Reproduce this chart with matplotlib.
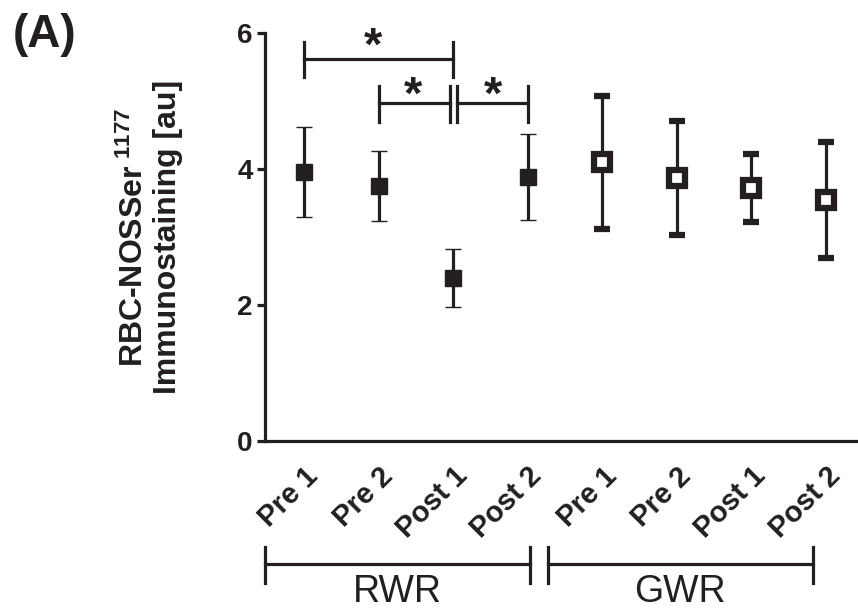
import matplotlib

matplotlib.use("Agg")
import matplotlib.pyplot as plt

plt.rcParams["font.family"] = ["Liberation Sans", "DejaVu Sans"]
plt.rcParams["mathtext.fontset"] = "custom"
plt.rcParams["mathtext.rm"] = "Liberation Sans"
plt.rcParams["mathtext.bf"] = "Liberation Sans:bold"
plt.rcParams["mathtext.default"] = "bf"

INK = "#231f20"

tick_labels = ["Pre 1", "Pre 2", "Post 1", "Post 2", "Pre 1", "Pre 2", "Post 1", "Post 2"]
groups = ["RWR", "GWR"]

rwr_x = [0, 1, 2, 3]
rwr_mean = [3.96, 3.75, 2.40, 3.88]
rwr_sd = [0.66, 0.51, 0.43, 0.63]

gwr_x = [4, 5, 6, 7]
gwr_mean = [4.10, 3.87, 3.72, 3.54]
gwr_sd = [0.98, 0.84, 0.50, 0.85]

# significance brackets: (x start, x end, line y, tick low, tick high, star x, star y)
sig_brackets = [
    (0.0, 2.0, 5.62, 5.35, 5.87, 0.93, 5.60),
    (1.0, 1.96, 4.97, 4.69, 5.22, 1.46, 4.88),
    (2.05, 3.0, 4.97, 4.69, 5.22, 2.53, 4.88),
]

# group brackets below the axis: (x start, x end)
group_spans = [(-0.52, 3.03), (3.27, 6.82)]


def main() -> int:
    fig = plt.figure(figsize=(8.58, 6.11), dpi=100)
    ax = fig.add_axes([0.3089, 0.2782, 0.6911, 0.6678])

    ax.errorbar(rwr_x, rwr_mean, yerr=rwr_sd, fmt="s", color=INK, ms=12,
                mew=1.0, capsize=5.5, capthick=3.0, elinewidth=2.3, zorder=3)
    ax.errorbar(gwr_x, gwr_mean, yerr=gwr_sd, fmt="s", color=INK, mfc="white",
                mec=INK, ms=12, mew=4.5, capsize=5.5, capthick=3.0, elinewidth=2.3, zorder=3)

    for x0, x1, y, lo, hi, sx, sy in sig_brackets:
        ax.plot([x0, x1], [y, y], color=INK, lw=2.3, clip_on=False)
        ax.plot([x0, x0], [lo, hi], color=INK, lw=2.3, clip_on=False)
        ax.plot([x1, x1], [lo, hi], color=INK, lw=2.3, clip_on=False)
        ax.text(sx, sy, "*", fontsize=34, fontweight="bold", color=INK,
                ha="center", va="baseline")

    for (x0, x1), name in zip(group_spans, groups):
        ax.plot([x0, x1], [-1.81, -1.81], color=INK, lw=2.3, clip_on=False)
        ax.plot([x0, x0], [-1.56, -2.09], color=INK, lw=2.3, clip_on=False)
        ax.plot([x1, x1], [-1.56, -2.09], color=INK, lw=2.3, clip_on=False)
        ax.text((x0 + x1) / 2, -2.22, name, fontsize=27, color=INK,
                ha="center", va="center")

    ax.set_xlim(-0.523, 7.43)
    ax.set_ylim(0, 6)
    ax.set_yticks([0, 2, 4, 6])
    ax.set_xticks(range(len(tick_labels)))
    ax.set_xticklabels(tick_labels, rotation=45, ha="right", rotation_mode="anchor",
                       fontsize=21, fontweight="bold", color=INK)
    ax.tick_params(axis="x", length=0, pad=15)
    ax.tick_params(axis="y", length=6, width=2.3, pad=3, labelsize=20, colors=INK)
    for lab in ax.get_yticklabels():
        lab.set_fontweight("bold")

    for side in ("top", "right"):
        ax.spines[side].set_visible(False)
    for side in ("left", "bottom"):
        ax.spines[side].set_linewidth(2.3)
        ax.spines[side].set_color(INK)

    ax.set_ylabel("RBC-NOSSer$^{\\ 1177}$\nImmunostaining [au]", fontsize=23,
                  fontweight="bold", color=INK, linespacing=1.15)
    ax.yaxis.set_label_coords(-0.138, 0.5)

    fig.text(0.015, 0.943, "(A)", fontsize=33, fontweight="bold", color=INK,
             ha="left", va="center")

    fig.savefig("out.png", dpi=100)
    return 0


if __name__ == "__main__":
    raise SystemExit(main())
